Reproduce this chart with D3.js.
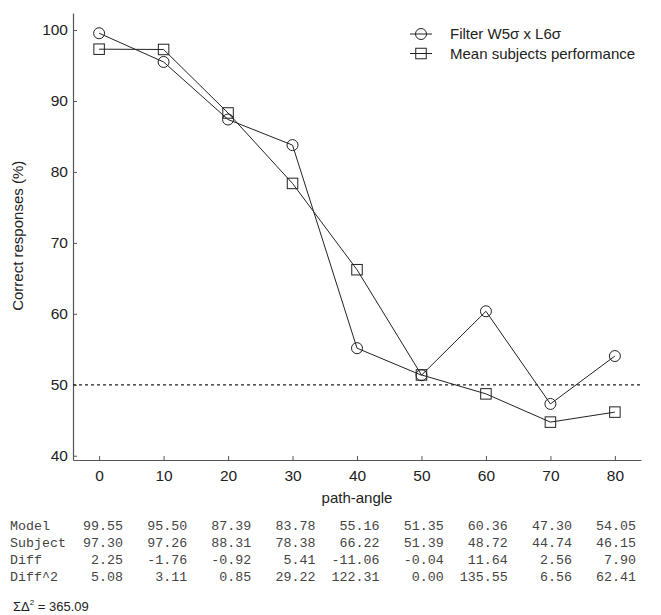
<!DOCTYPE html>
<html>
<head>
<meta charset="utf-8">
<script src="https://cdn.jsdelivr.net/npm/d3@7"></script>
<style>
  body { margin: 0; background: #fff; }
  svg { display: block; font-family: "Liberation Sans", Arial, sans-serif; }
</style>
</head>
<body>
<div id="chart"></div>
<script>
/* data */
var angles = [0, 10, 20, 30, 40, 50, 60, 70, 80];
var model = [99.55, 95.50, 87.39, 83.78, 55.16, 51.35, 60.36, 47.30, 54.05];
var subject = [97.30, 97.26, 88.31, 78.38, 66.22, 51.39, 48.72, 44.74, 46.15];
var diff = [2.25, -1.76, -0.92, 5.41, -11.06, -0.04, 11.64, 2.56, 7.90];
var diff2 = [5.08, 3.11, 0.85, 29.22, 122.31, 0.00, 135.55, 6.56, 62.41];
var yTicks = [40, 50, 60, 70, 80, 90, 100];
var chanceLevel = 50;
var sumSq = "365.09";
var seriesNames = ["Filter W5\u03c3 x L6\u03c3", "Mean subjects performance"];

var W = 661, H = 615;
var svg = d3.select("#chart").append("svg")
  .attr("width", W)
  .attr("height", H);

/* scales */
var x = d3.scaleLinear().domain([-4.05, 84.05]).range([73, 641]);
var y = d3.scaleLinear().domain([39.4, 102.4]).range([460, 13]);

var axisColor = "#555";

/* axes, ticks inward */
var gx = svg.append("g")
  .attr("transform", "translate(0," + y(39.4) + ")")
  .call(d3.axisBottom(x).tickValues(angles).tickSizeInner(-4).tickSizeOuter(0).tickPadding(10));
var gy = svg.append("g")
  .attr("transform", "translate(" + x(-4.05) + ",0)")
  .call(d3.axisLeft(y).tickValues(yTicks).tickSizeInner(-4).tickSizeOuter(0).tickPadding(5));

[gx, gy].forEach(function(g) {
  g.select(".domain").attr("stroke", axisColor).attr("stroke-width", 1.2);
  g.selectAll(".tick line").attr("stroke", axisColor);
  g.selectAll(".tick text")
    .attr("fill", "#222")
    .style("font-size", "15.5px")
    .style("font-family", "'Liberation Sans', Arial, sans-serif");
});

svg.append("text")
  .attr("x", x(40))
  .attr("y", 503)
  .attr("text-anchor", "middle")
  .attr("fill", "#222")
  .style("font-size", "15px")
  .text("path-angle");

svg.append("text")
  .attr("transform", "translate(23," + y(71) + ") rotate(-90)")
  .attr("text-anchor", "middle")
  .attr("fill", "#222")
  .style("font-size", "15px")
  .text("Correct responses (%)");

/* chance line */
svg.append("line")
  .attr("x1", x(-4.05))
  .attr("x2", x(84.05))
  .attr("y1", y(chanceLevel))
  .attr("y2", y(chanceLevel))
  .attr("stroke", "#222")
  .attr("stroke-width", 1.2)
  .attr("stroke-dasharray", "3,3");

/* series */
var line = d3.line()
  .x(function(d, i) { return x(angles[i]); })
  .y(function(d) { return y(d); });

svg.append("path")
  .datum(model)
  .attr("d", line)
  .attr("fill", "none")
  .attr("stroke", "#222")
  .attr("stroke-width", 1);

svg.append("path")
  .datum(subject)
  .attr("d", line)
  .attr("fill", "none")
  .attr("stroke", "#222")
  .attr("stroke-width", 1);

svg.append("g").selectAll("circle")
  .data(model)
  .enter().append("circle")
    .attr("cx", function(d, i) { return x(angles[i]); })
    .attr("cy", function(d) { return y(d); })
    .attr("r", 5.5)
    .attr("fill", "none")
    .attr("stroke", "#222")
    .attr("stroke-width", 1);

var sq = 10.5;
svg.append("g").selectAll("rect")
  .data(subject)
  .enter().append("rect")
    .attr("x", function(d, i) { return x(angles[i]) - sq / 2; })
    .attr("y", function(d) { return y(d) - sq / 2; })
    .attr("width", sq)
    .attr("height", sq)
    .attr("fill", "none")
    .attr("stroke", "#222")
    .attr("stroke-width", 1);

/* legend */
var lg = svg.append("g").attr("transform", "translate(410,34)");
seriesNames.forEach(function(name, i) {
  var row = lg.append("g").attr("transform", "translate(0," + (i * 19.5) + ")");
  row.append("line")
    .attr("x1", 0).attr("x2", 22)
    .attr("stroke", "#222");
  if (i === 0) {
    row.append("circle").attr("cx", 11).attr("r", 5.5)
      .attr("fill", "none").attr("stroke", "#222");
  } else {
    row.append("rect").attr("x", 11 - sq / 2).attr("y", -sq / 2)
      .attr("width", sq).attr("height", sq)
      .attr("fill", "none").attr("stroke", "#222");
  }
  row.append("text")
    .attr("x", 40)
    .attr("y", 5)
    .attr("fill", "#222")
    .style("font-size", "15px")
    .text(name);
});

/* table under the chart */
var rows = [
  { label: "Model", vals: model },
  { label: "Subject", vals: subject },
  { label: "Diff", vals: diff },
  { label: "Diff^2", vals: diff2 }
];
var colX = d3.scaleLinear().domain([0, 8]).range([123, 636]);
var tbl = svg.append("g")
  .style("font-family", "'Liberation Mono', 'Courier New', monospace")
  .style("font-size", "13.3px")
  .attr("fill", "#444");
rows.forEach(function(r, j) {
  var yy = 530 + j * 16.9;
  tbl.append("text").attr("x", 10).attr("y", yy).text(r.label);
  r.vals.forEach(function(v, i) {
    tbl.append("text")
      .attr("x", colX(i))
      .attr("y", yy)
      .attr("text-anchor", "end")
      .text(v.toFixed(2));
  });
});

var sum = svg.append("text")
  .attr("x", 13)
  .attr("y", 611)
  .attr("fill", "#222")
  .style("font-size", "13px");
sum.append("tspan").text("\u03a3\u0394");
sum.append("tspan").attr("dy", -6).style("font-size", "8px").text("2");
sum.append("tspan").attr("dy", 6).text(" = " + sumSq);
</script>
</body>
</html>
